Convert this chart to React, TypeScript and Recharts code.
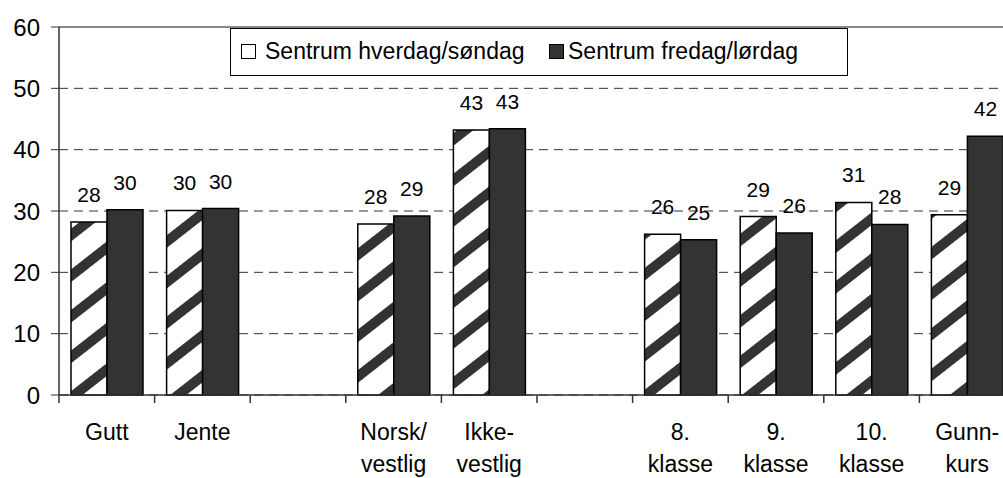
import { BarChart, Bar, XAxis, YAxis, CartesianGrid, ReferenceLine, LabelList } from "recharts"

const categories = ["Gutt", "Jente", "", "Norsk/\nvestlig", "Ikke-\nvestlig", "", "8.\nklasse", "9.\nklasse", "10.\nklasse", "Gunn-\nkurs"]
const hverdag = [28.2, 30.1, null, 27.9, 43.2, null, 26.2, 29.1, 31.4, 29.4]
const fredag = [30.2, 30.4, null, 29.2, 43.4, null, 25.3, 26.4, 27.8, 42.2]
const yTicks = [0, 10, 20, 30, 40, 50, 60]
const seriesNames = ["Sentrum hverdag/søndag", "Sentrum fredag/lørdag"]

const data = categories.map((name, i) => ({ name, hverdag: hverdag[i], fredag: fredag[i] }))

const FONT = '"Liberation Sans", Arial, sans-serif'
const CHART_W = 1015
const CHART_H = 478
const Y_W = 59
const X_H = 83
const PLOT_BOTTOM = CHART_H - X_H
const BAND = (CHART_W - Y_W) / categories.length
const DARK = "#333333"

function CategoryTick(props: any) {
  const { x, payload } = props
  const lines = String(payload.value).split("\n").filter((s) => s.length > 0)
  const left = x - BAND / 2
  return (
    <g>
      <line x1={left} y1={PLOT_BOTTOM} x2={left} y2={PLOT_BOTTOM + 8} stroke={DARK} strokeWidth={1.5} />
      {lines.map((line, i) => (
        <text
          key={i}
          x={x}
          y={PLOT_BOTTOM + 45 + i * 32}
          textAnchor="middle"
          fontSize={23}
          fontFamily={FONT}
          fill="#000"
        >
          {line}
        </text>
      ))}
    </g>
  )
}

const labelFmt = (v: any) => (v == null ? "" : Math.round(Number(v)))

export default function App() {
  return (
    <div style={{ position: "fixed", left: 0, top: 0, width: 1003, height: 478, overflow: "hidden", background: "#fff" }}>
      <BarChart
        width={CHART_W}
        height={CHART_H}
        data={data}
        margin={{ top: 27, right: 0, left: 0, bottom: 0 }}
        barGap={0}
        barSize={36}
      >
        <defs>
          <pattern id="hatch" patternUnits="userSpaceOnUse" width={32} height={32} patternTransform="rotate(-38)">
            <rect x={0} y={0} width={32} height={32} fill="#fff" />
            <rect x={0} y={0} width={32} height={10} fill={DARK} />
          </pattern>
        </defs>
        <CartesianGrid vertical={false} stroke={DARK} strokeDasharray="9 6" />
        <ReferenceLine y={60} stroke="#888" strokeWidth={2} />
        <XAxis
          dataKey="name"
          height={X_H}
          interval={0}
          tickLine={false}
          axisLine={{ stroke: DARK, strokeWidth: 1.5 }}
          tick={<CategoryTick />}
        />
        <YAxis
          width={Y_W}
          domain={[0, 60]}
          ticks={yTicks}
          interval={0}
          tickSize={8}
          tickMargin={11}
          axisLine={{ stroke: DARK, strokeWidth: 1.5 }}
          tickLine={{ stroke: DARK }}
          tick={{ fontSize: 24, fontFamily: FONT, fill: "#000" }}
        />
        <Bar dataKey="hverdag" name={seriesNames[0]} fill="url(#hatch)" stroke="#000" strokeWidth={1.5} isAnimationActive={false}>
          <LabelList dataKey="hverdag" position="top" offset={20} formatter={labelFmt} style={{ fontSize: 21, fontFamily: FONT, fill: "#000" }} />
        </Bar>
        <Bar dataKey="fredag" name={seriesNames[1]} fill={DARK} stroke="#000" strokeWidth={1.5} isAnimationActive={false}>
          <LabelList dataKey="fredag" position="top" offset={20} formatter={labelFmt} style={{ fontSize: 21, fontFamily: FONT, fill: "#000" }} />
        </Bar>
      </BarChart>
      <div
        style={{
          position: "absolute",
          left: 230,
          top: 28,
          width: 616,
          height: 46,
          border: "1px solid #000",
          background: "#fff",
          fontFamily: FONT,
          fontSize: 23,
          color: "#000",
        }}
      >
        <div style={{ position: "absolute", left: 10, top: 15, width: 13, height: 13, border: "1px solid #000", background: "#fff" }} />
        <div style={{ position: "absolute", left: 34, top: 9, lineHeight: "26px", whiteSpace: "nowrap" }}>{seriesNames[0]}</div>
        <div style={{ position: "absolute", left: 318, top: 15, width: 13, height: 13, border: "1px solid #000", background: DARK }} />
        <div style={{ position: "absolute", left: 337, top: 9, lineHeight: "26px", whiteSpace: "nowrap" }}>{seriesNames[1]}</div>
      </div>
    </div>
  )
}
